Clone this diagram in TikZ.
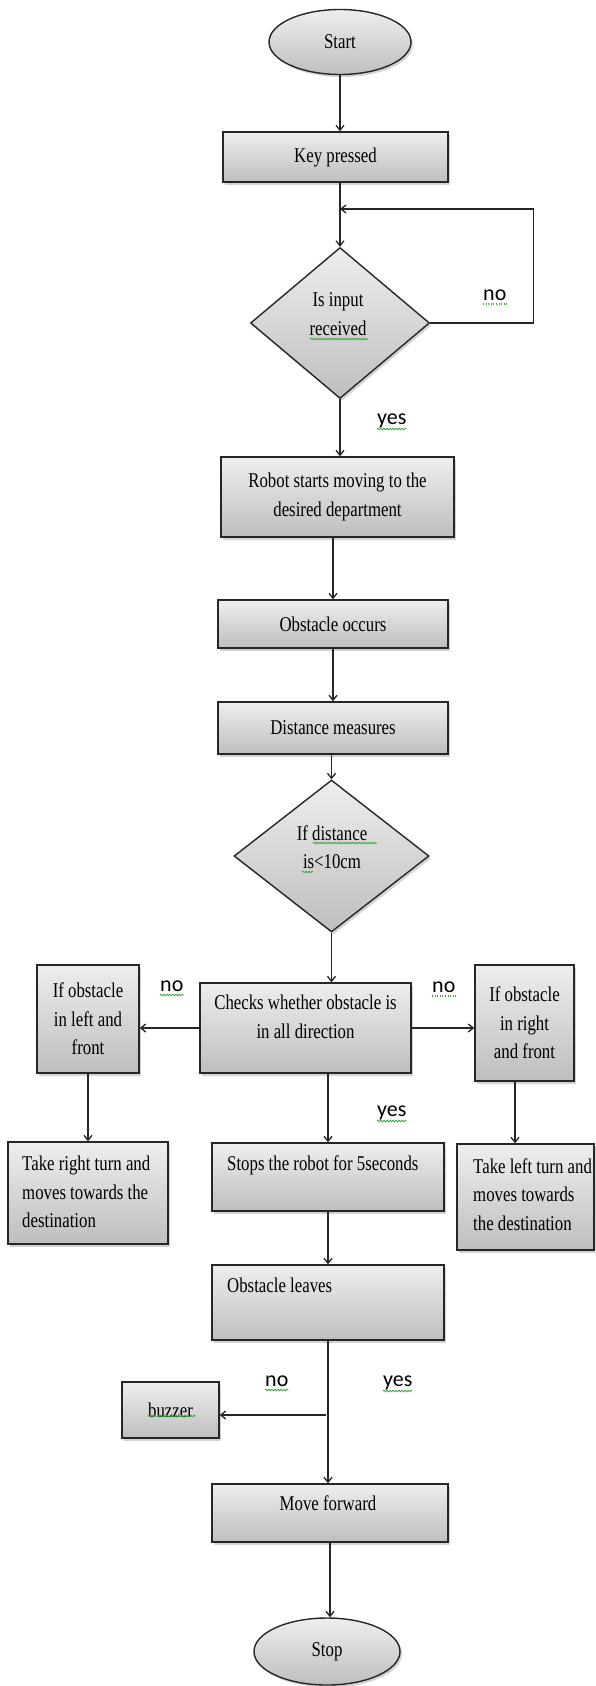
\documentclass[tikz,border=0pt]{standalone}
\usepackage{fontspec}
\newfontfamily\fnt[FakeStretch=0.8]{Liberation Serif}
\newfontfamily\lblfnt{Carlito}
\usetikzlibrary{shapes.geometric,arrows.meta,shadows,decorations.pathmorphing,calc}
\definecolor{shtop}{RGB}{238,238,238}
\definecolor{shbot}{RGB}{190,190,190}
\definecolor{spell}{RGB}{60,165,60}
\tikzset{
  basic/.style={draw=black!85, line width=1.4pt, top color=shtop, bottom color=shbot,
    drop shadow={shadow xshift=2pt,shadow yshift=-2.5pt,opacity=0.35},
    inner sep=0pt, font=\fnt\fontsize{21}{28.5}\selectfont, align=center},
  box/.style n args={2}{basic, rectangle, minimum width=#1, minimum height=#2},
  dec/.style n args={2}{basic, diamond, minimum width=#1, minimum height=#2},
  term/.style n args={2}{basic, ellipse, minimum width=#1, minimum height=#2},
  txt/.style={inner sep=0pt, font=\fnt\fontsize{21}{28.5}\selectfont},
  lbl/.style={inner sep=0pt, anchor=base west, font=\lblfnt\fontsize{22}{26}\selectfont},
  arr/.style={-{Straight Barb[length=5pt,width=8pt]}, line width=1.3pt, draw=black!85},
  wavy/.style={draw=spell, line width=0.8pt, decorate, decoration={snake, segment length=3pt, amplitude=0.8pt}},
  dots/.style={draw=spell, line width=1.1pt, dash pattern=on 1pt off 1.6pt},
}
\begin{document}
\begin{tikzpicture}[x=1pt,y=-1pt]
\useasboundingbox (0,0) rectangle (595,1686);

% shapes
\node[term={142pt}{65pt}] (start) at (340,42) {Start};
\node[box={225pt}{50pt}] (key) at (335.5,157) {Key pressed};
\node[dec={179pt}{151pt}] (d1) at (340,323) {};
\node[txt, align=center] (td1) at (338,314) {Is input\\received};
\node[box={233pt}{80pt}] (robot) at (337.5,497) {Robot starts moving to the\\desired department};
\node[box={230pt}{48pt}] (occurs) at (333,624) {Obstacle occurs};
\node[box={230pt}{52pt}] (dist) at (333,728) {Distance measures};
\node[dec={195pt}{152pt}] (d2) at (331.5,856) {};
\node[txt, align=center] (td2) at (332,847) {If distance\\is<10cm};
\node[box={211pt}{90pt}] (checks) at (305.5,1028) {};
\node[txt, align=center] (tchecks) at (305.5,1017) {Checks whether obstacle is\\in all direction};
\node[box={102pt}{108pt}] (lbox) at (88,1019) {If obstacle\\in left and\\front};
\node[box={99pt}{116pt}] (rbox) at (524.5,1023) {If obstacle\\in right\\and front};
\node[box={160pt}{102pt}] (tright) at (88,1193) {};
\node[txt, align=left, anchor=north west] (ttright) at (22,1156) {Take right turn and\\moves towards the\\destination};
\node[box={137pt}{106pt}] (tleft) at (525.5,1197) {};
\node[txt, align=left, anchor=north west] (ttleft) at (473,1158) {Take left turn and\\moves towards\\the destination};
\node[box={232pt}{68pt}] (stops) at (328,1177) {};
\node[txt, anchor=base west] (tstops) at (227,1170) {Stops the robot for 5seconds};
\node[box={232pt}{75pt}] (leaves) at (328,1302.5) {};
\node[txt, anchor=base west] (tleaves) at (227,1292) {Obstacle leaves};
\node[box={97pt}{56pt}] (buzz) at (170.5,1410) {buzzer};
\node[box={236pt}{58pt}] (move) at (330,1513) {};
\node[txt] (tmove) at (328,1503) {Move forward};
\node[term={146pt}{67pt}] (stop) at (327,1651.5) {Stop};

% connectors
\coordinate (loopin) at (340,209);
\coordinate (jn) at (326,1415);
\draw[arr] (start.south) -- (start.south |- key.north);
\draw[arr] (d1.north |- key.south) -- (d1.north);
\draw[arr] (d1.east) -- ++(103,0) |- (loopin);
\draw[arr] (d1.south) -- (d1.south |- robot.north);
\draw[arr] (occurs.north |- robot.south) -- (occurs.north);
\draw[arr] (occurs.south) -- (dist.north);
\draw[arr] (d2.north |- dist.south) -- (d2.north);
\draw[arr] (d2.south) -- (d2.south |- checks.north);
\draw[arr] (checks.west) -- (checks.west -| lbox.east);
\draw[arr] (checks.east) -- (checks.east -| rbox.west);
\draw[arr] (lbox.south) -- (lbox.south |- tright.north);
\draw[arr] ([xshift=-9.5pt]rbox.south) -- ([xshift=-9.5pt]rbox.south |- tleft.north);
\draw[arr] (stops.north |- checks.south) -- (stops.north);
\draw[arr] (stops.south) -- (leaves.north);
\draw[arr] (leaves.south) -- (leaves.south |- move.north);
\draw[arr] (jn) -- (jn -| buzz.east);
\draw[arr] (move.south) -- (move.south |- stop.north);

% labels
\node[lbl] (no1) at (483,300) {no};
\node[lbl] (yes1) at (377,424) {yes};
\node[lbl] (no2) at (160,991) {no};
\node[lbl] (no3) at (432,992) {no};
\node[lbl] (yes2) at (377,1116) {yes};
\node[lbl] (no4) at (265,1386) {no};
\node[lbl] (yes3) at (383,1386) {yes};

% spell-check marks
\draw[dots] ([yshift=-4pt]no1.base west) -- ([yshift=-4pt]no1.base east);
\draw[wavy] ([yshift=-5pt]yes1.base west) -- ([yshift=-5pt]yes1.base east);
\draw[wavy] ([yshift=-4pt]no2.base west) -- ([yshift=-4pt]no2.base east);
\draw[dots] ([yshift=-4pt]no3.base west) -- ([yshift=-4pt]no3.base east);
\draw[wavy] ([yshift=-5pt]yes2.base west) -- ([yshift=-5pt]yes2.base east);
\draw[wavy] ([yshift=-4pt]no4.base west) -- ([yshift=-4pt]no4.base east);
\draw[wavy] ([yshift=-5pt]yes3.base west) -- ([yshift=-5pt]yes3.base east);
\draw[wavy] (310,339) -- (368,339);
\draw[wavy] (313,843) -- (377,843);
\draw[wavy] (302,872) -- (313,872);
\draw[wavy] (148,1416) -- (196,1416);
\end{tikzpicture}
\end{document}
